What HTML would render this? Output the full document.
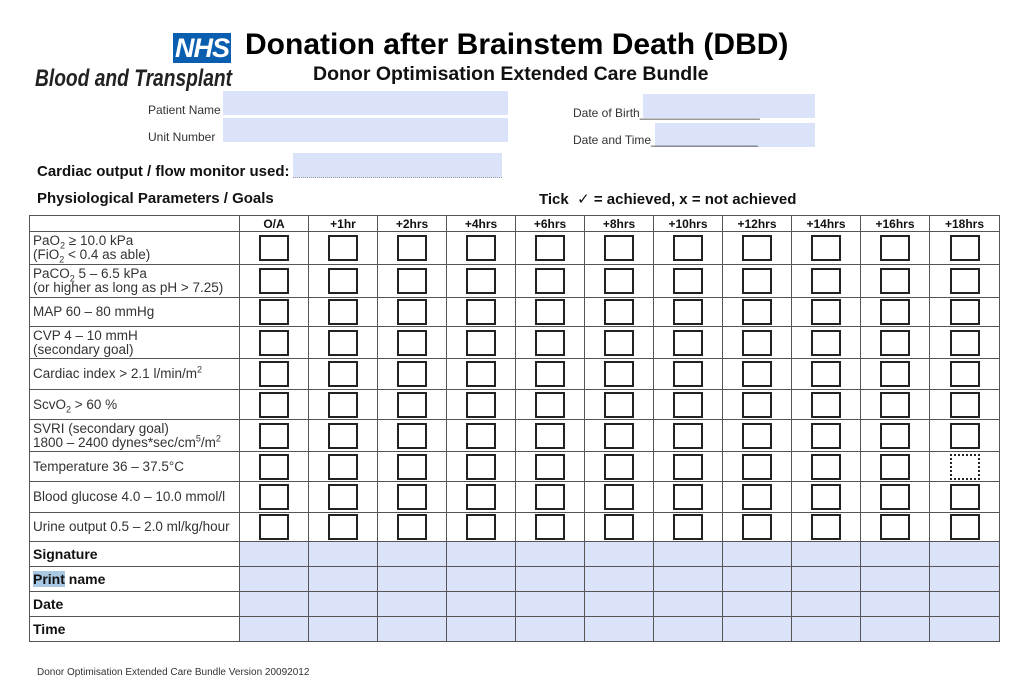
<!DOCTYPE html>
<html><head><meta charset="utf-8"><style>
body{margin:0;width:1024px;height:699px;background:#fff;position:relative;font-family:"Liberation Sans",Arial,sans-serif;color:#111;overflow:hidden}
.a{position:absolute;white-space:nowrap}
.f{position:absolute;background:#dbe3fb}
table{position:absolute;left:29px;top:215px;border-collapse:collapse;table-layout:fixed}
td{border:1px solid #555;padding:0;font-size:13.5px;color:#333;line-height:14px}
td.l{padding-left:3px}
tr.h td{font-weight:bold;font-size:12px;text-align:center;color:#111;height:15px}
td.c{text-align:center;vertical-align:middle}
.b{display:inline-block;width:26px;height:22px;border:2px solid #222;vertical-align:middle}
tr.s td{font-weight:bold;font-size:14px;color:#111;height:24px}
tr.s td.v{background:#dbe3fb}
sub,sup{font-size:9px;line-height:0}
</style></head><body>
<div class="a" style="left:173px;top:33px;width:58px;height:30px;background:#0a5eb0;color:#fff;font-weight:bold;font-style:italic;font-size:27px;line-height:30px;text-align:center;letter-spacing:-1px">NHS</div>
<div class="a" style="left:35px;top:65px;font-size:24px;font-style:italic;font-weight:bold;color:#222;transform:scaleX(0.8);transform-origin:left">Blood and Transplant</div>
<div class="a" style="left:245px;top:28px;font-size:30px;font-weight:bold;color:#000">Donation after Brainstem Death (DBD)</div>
<div class="a" style="left:313px;top:63px;font-size:19.5px;font-weight:bold;color:#111">Donor Optimisation Extended Care Bundle</div>
<div class="a" style="left:148px;top:103px;font-size:12px;color:#333">Patient Name</div>
<div class="f" style="left:223px;top:91px;width:285px;height:24px"></div>
<div class="a" style="left:148px;top:130px;font-size:12px;color:#333">Unit Number</div>
<div class="f" style="left:223px;top:118px;width:285px;height:24px"></div>
<div class="f" style="left:643px;top:94px;width:172px;height:24px"></div>
<div class="a" style="left:573px;top:106px;font-size:12px;color:#333">Date of Birth__________________</div>
<div class="f" style="left:655px;top:123px;width:160px;height:24px"></div>
<div class="a" style="left:573px;top:133px;font-size:12px;color:#333">Date and Time________________</div>
<div class="a" style="left:37px;top:163px;font-size:15px;font-weight:bold">Cardiac output / flow monitor used:</div>
<div class="f" style="left:293px;top:153px;width:209px;height:24px;border-bottom:1px dotted #999"></div>
<div class="a" style="left:37px;top:190px;font-size:15px;font-weight:bold">Physiological Parameters / Goals</div>
<div class="a" style="left:539px;top:190px;font-size:15px;font-weight:bold">Tick &nbsp;<span style="font-weight:normal">✓</span> = achieved, x = not achieved</div>
<table>
<colgroup><col style="width:210px"><col style="width:69px"><col style="width:69px"><col style="width:69px"><col style="width:69px"><col style="width:69px"><col style="width:69px"><col style="width:69px"><col style="width:69px"><col style="width:69px"><col style="width:69px"><col style="width:70px"></colgroup>
<tr class="h"><td></td><td>O/A</td><td>+1hr</td><td>+2hrs</td><td>+4hrs</td><td>+6hrs</td><td>+8hrs</td><td>+10hrs</td><td>+12hrs</td><td>+14hrs</td><td>+16hrs</td><td>+18hrs</td></tr>
<tr style="height:33px"><td class="l">PaO<sub>2</sub> ≥ 10.0 kPa<br>(FiO<sub>2</sub> &lt; 0.4 as able)</td><td class="c"><i class="b"></i></td><td class="c"><i class="b"></i></td><td class="c"><i class="b"></i></td><td class="c"><i class="b"></i></td><td class="c"><i class="b"></i></td><td class="c"><i class="b"></i></td><td class="c"><i class="b"></i></td><td class="c"><i class="b"></i></td><td class="c"><i class="b"></i></td><td class="c"><i class="b"></i></td><td class="c"><i class="b"></i></td></tr>
<tr style="height:33px"><td class="l">PaCO<sub>2</sub> 5 – 6.5 kPa<br>(or higher as long as pH &gt; 7.25)</td><td class="c"><i class="b"></i></td><td class="c"><i class="b"></i></td><td class="c"><i class="b"></i></td><td class="c"><i class="b"></i></td><td class="c"><i class="b"></i></td><td class="c"><i class="b"></i></td><td class="c"><i class="b"></i></td><td class="c"><i class="b"></i></td><td class="c"><i class="b"></i></td><td class="c"><i class="b"></i></td><td class="c"><i class="b"></i></td></tr>
<tr style="height:29px"><td class="l">MAP 60 – 80 mmHg</td><td class="c"><i class="b"></i></td><td class="c"><i class="b"></i></td><td class="c"><i class="b"></i></td><td class="c"><i class="b"></i></td><td class="c"><i class="b"></i></td><td class="c"><i class="b"></i></td><td class="c"><i class="b"></i></td><td class="c"><i class="b"></i></td><td class="c"><i class="b"></i></td><td class="c"><i class="b"></i></td><td class="c"><i class="b"></i></td></tr>
<tr style="height:32px"><td class="l">CVP 4 – 10 mmH<br>(secondary goal)</td><td class="c"><i class="b"></i></td><td class="c"><i class="b"></i></td><td class="c"><i class="b"></i></td><td class="c"><i class="b"></i></td><td class="c"><i class="b"></i></td><td class="c"><i class="b"></i></td><td class="c"><i class="b"></i></td><td class="c"><i class="b"></i></td><td class="c"><i class="b"></i></td><td class="c"><i class="b"></i></td><td class="c"><i class="b"></i></td></tr>
<tr style="height:31px"><td class="l">Cardiac index &gt; 2.1 l/min/m<sup>2</sup></td><td class="c"><i class="b"></i></td><td class="c"><i class="b"></i></td><td class="c"><i class="b"></i></td><td class="c"><i class="b"></i></td><td class="c"><i class="b"></i></td><td class="c"><i class="b"></i></td><td class="c"><i class="b"></i></td><td class="c"><i class="b"></i></td><td class="c"><i class="b"></i></td><td class="c"><i class="b"></i></td><td class="c"><i class="b"></i></td></tr>
<tr style="height:30px"><td class="l">ScvO<sub>2</sub> &gt; 60 %</td><td class="c"><i class="b"></i></td><td class="c"><i class="b"></i></td><td class="c"><i class="b"></i></td><td class="c"><i class="b"></i></td><td class="c"><i class="b"></i></td><td class="c"><i class="b"></i></td><td class="c"><i class="b"></i></td><td class="c"><i class="b"></i></td><td class="c"><i class="b"></i></td><td class="c"><i class="b"></i></td><td class="c"><i class="b"></i></td></tr>
<tr style="height:32px"><td class="l">SVRI (secondary goal)<br>1800 – 2400 dynes*sec/cm<sup>5</sup>/m<sup>2</sup></td><td class="c"><i class="b"></i></td><td class="c"><i class="b"></i></td><td class="c"><i class="b"></i></td><td class="c"><i class="b"></i></td><td class="c"><i class="b"></i></td><td class="c"><i class="b"></i></td><td class="c"><i class="b"></i></td><td class="c"><i class="b"></i></td><td class="c"><i class="b"></i></td><td class="c"><i class="b"></i></td><td class="c"><i class="b"></i></td></tr>
<tr style="height:30px"><td class="l">Temperature 36 – 37.5°C</td><td class="c"><i class="b"></i></td><td class="c"><i class="b"></i></td><td class="c"><i class="b"></i></td><td class="c"><i class="b"></i></td><td class="c"><i class="b"></i></td><td class="c"><i class="b"></i></td><td class="c"><i class="b"></i></td><td class="c"><i class="b"></i></td><td class="c"><i class="b"></i></td><td class="c"><i class="b"></i></td><td class="c"><i class="b" style="border-style:dotted"></i></td></tr>
<tr style="height:31px"><td class="l">Blood glucose 4.0 – 10.0 mmol/l</td><td class="c"><i class="b"></i></td><td class="c"><i class="b"></i></td><td class="c"><i class="b"></i></td><td class="c"><i class="b"></i></td><td class="c"><i class="b"></i></td><td class="c"><i class="b"></i></td><td class="c"><i class="b"></i></td><td class="c"><i class="b"></i></td><td class="c"><i class="b"></i></td><td class="c"><i class="b"></i></td><td class="c"><i class="b"></i></td></tr>
<tr style="height:29px"><td class="l">Urine output 0.5 – 2.0 ml/kg/hour</td><td class="c"><i class="b"></i></td><td class="c"><i class="b"></i></td><td class="c"><i class="b"></i></td><td class="c"><i class="b"></i></td><td class="c"><i class="b"></i></td><td class="c"><i class="b"></i></td><td class="c"><i class="b"></i></td><td class="c"><i class="b"></i></td><td class="c"><i class="b"></i></td><td class="c"><i class="b"></i></td><td class="c"><i class="b"></i></td></tr>
<tr class="s"><td class="l">Signature</td><td class="v"></td><td class="v"></td><td class="v"></td><td class="v"></td><td class="v"></td><td class="v"></td><td class="v"></td><td class="v"></td><td class="v"></td><td class="v"></td><td class="v"></td></tr>
<tr class="s"><td class="l"><span style="background:#a9c8e4">Print</span> name</td><td class="v"></td><td class="v"></td><td class="v"></td><td class="v"></td><td class="v"></td><td class="v"></td><td class="v"></td><td class="v"></td><td class="v"></td><td class="v"></td><td class="v"></td></tr>
<tr class="s"><td class="l">Date</td><td class="v"></td><td class="v"></td><td class="v"></td><td class="v"></td><td class="v"></td><td class="v"></td><td class="v"></td><td class="v"></td><td class="v"></td><td class="v"></td><td class="v"></td></tr>
<tr class="s"><td class="l">Time</td><td class="v"></td><td class="v"></td><td class="v"></td><td class="v"></td><td class="v"></td><td class="v"></td><td class="v"></td><td class="v"></td><td class="v"></td><td class="v"></td><td class="v"></td></tr>
</table>
<div class="a" style="left:37px;top:667px;font-size:10px;color:#333">Donor Optimisation Extended Care Bundle Version 20092012</div>
</body></html>
